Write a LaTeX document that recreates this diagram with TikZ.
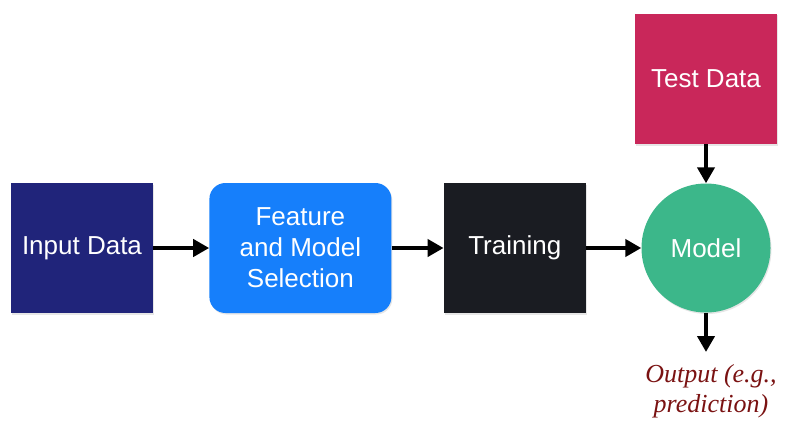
\documentclass[tikz,border=0pt]{standalone}
\usepackage{fontspec}
\setmainfont{Liberation Sans}
\newfontfamily\notefont{Liberation Serif}
\usepackage{tikz}
\usetikzlibrary{arrows.meta,positioning,shadows}
\definecolor{mlnavy}{HTML}{20247A}
\definecolor{mlblue}{HTML}{167FFB}
\definecolor{mlblack}{HTML}{1A1C22}
\definecolor{mlred}{HTML}{C9275A}
\definecolor{mlgreen}{HTML}{3CB78A}
\definecolor{mlnote}{HTML}{7A1212}
\tikzset{
  mlbox/.style={
    rectangle,
    draw=none,
    text=white,
    align=center,
    minimum width=142pt,
    minimum height=130pt,
    inner sep=0pt,
    font=\fontsize{26}{31}\selectfont,
    drop shadow={opacity=0.2, shadow xshift=1pt, shadow yshift=-1.5pt}
  },
  mlround/.style={mlbox, rounded corners=16pt, minimum width=182pt},
  mlcircle/.style={mlbox, circle, minimum size=129pt},
  mlarrow/.style={-{Triangle[length=16pt, width=17pt]}, line width=4.5pt, draw=black}
}
\begin{document}
\begin{tikzpicture}[x=1pt, y=-1pt, node distance=56pt]
\useasboundingbox (0,0) rectangle (799,433);
\node[mlbox, fill=mlnavy] (input) at (82,248) {Input Data};
\node[mlround, fill=mlblue, right=56pt of input] (select) {Feature\\and Model\\Selection};
\node[mlbox, fill=mlblack, right=52pt of select] (train) {Training};
\node[mlcircle, fill=mlgreen] (model) at (706,248) {Model};
\node[mlbox, fill=mlred] (test) at (706,79) {Test Data};
\coordinate (out) at (706,352);
\node[align=center, text=mlnote, font=\notefont\itshape\fontsize{26}{30}\selectfont] (note) at (711,391) {Output (e.g.,\\prediction)};
\draw[mlarrow] (input) -- (select);
\draw[mlarrow] (select) -- (train);
\draw[mlarrow] (train) -- (model);
\draw[mlarrow] (test) -- (model);
\draw[mlarrow] (model) -- (out);
\end{tikzpicture}
\end{document}
